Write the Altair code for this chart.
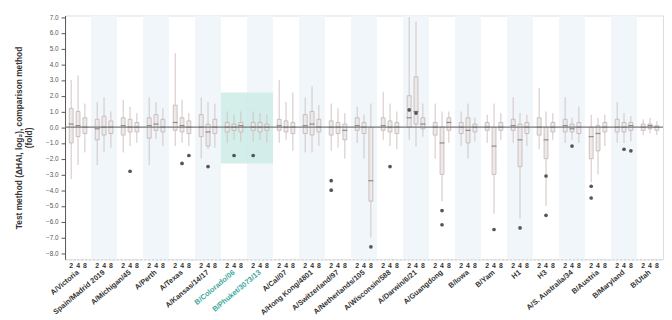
import altair as alt
import pandas as pd

groups = ["A/Victoria", "Spain/Madrid 2019", "A/Michigan/45", "A/Perth", "A/Texas",
          "A/Kansas/14/17", "B/Colorado/06", "B/Phuket/3073/13", "A/Cal/07",
          "A/Hong Kong/4801", "A/Switzerland/97", "A/Netherlands/105",
          "A/Wisconsin/588", "A/Darwin/6/21", "A/Guangdong", "B/Iowa",
          "B/Yam", "H1", "H3", "A/S. Australia/34", "B/Austria", "B/Maryland", "B/Utah"]
highlight = ["B/Colorado/06", "B/Phuket/3073/13"]
subs = ["2", "4", "8"]

# per group: three sub-series, each (low, q1, median, q3, high)
stats = [
    [(-3.3, -1.0, 0.2, 1.2, 3.0), (-2.4, -0.6, 0.1, 1.0, 3.3), (-1.6, -0.4, 0.0, 0.6, 1.5)],
    [(-2.4, -0.8, -0.1, 0.5, 1.6), (-1.6, -0.5, 0.0, 0.7, 1.9), (-1.3, -0.4, 0.0, 0.4, 1.0)],
    [(-1.6, -0.5, 0.1, 0.6, 1.75), (-1.2, -0.3, 0.0, 0.5, 1.3), (-1.0, -0.3, 0.0, 0.3, 0.9)],
    [(-2.4, -0.7, 0.1, 0.6, 1.9), (-0.75, -0.2, 0.2, 0.8, 1.6), (-1.2, -0.3, 0.0, 0.5, 1.2)],
    [(-1.2, -0.2, 0.3, 1.4, 4.7), (-1.0, -0.3, 0.1, 0.6, 1.75), (-1.2, -0.4, 0.0, 0.4, 0.9)],
    [(-2.0, -0.6, 0.0, 0.8, 1.9), (-1.4, -1.2, -0.3, 0.2, 1.6), (-1.3, -0.4, 0.0, 0.5, 1.5)],
    [(-1.0, -0.3, 0.0, 0.3, 1.0), (-0.8, -0.2, 0.0, 0.2, 0.8), (-0.9, -0.3, 0.1, 0.3, 1.0)],
    [(-0.9, -0.2, 0.0, 0.3, 1.0), (-0.8, -0.3, 0.0, 0.3, 0.9), (-1.0, -0.2, 0.0, 0.2, 0.8)],
    [(-1.0, -0.2, 0.1, 0.5, 3.0), (-0.8, -0.3, 0.0, 0.4, 1.6), (-1.5, -0.4, 0.0, 0.3, 2.2)],
    [(-1.6, -0.4, 0.1, 0.8, 1.9), (-1.6, -0.5, 0.2, 1.0, 2.6), (-1.2, -0.3, 0.0, 0.5, 1.4)],
    [(-1.5, -0.5, 0.0, 0.4, 1.5), (-1.3, -0.4, 0.0, 0.3, 1.2), (-2.0, -0.8, -0.2, 0.2, 0.9)],
    [(-1.0, -0.2, 0.1, 0.6, 1.3), (-2.0, -0.4, 0.0, 0.3, 0.8), (-7.0, -4.7, -3.4, 0.0, 1.5)],
    [(-0.8, -0.2, 0.1, 0.6, 2.25), (-1.2, -0.3, 0.0, 0.4, 1.5), (-1.4, -0.4, 0.0, 0.3, 1.0)],
    [(-0.8, 0.0, 0.6, 2.0, 7.0), (-1.2, 0.2, 1.0, 3.2, 6.7), (-0.6, -0.1, 0.2, 0.6, 1.5)],
    [(-2.0, -0.5, 0.0, 0.3, 1.5), (-4.7, -3.0, -1.0, 0.0, 1.0), (-1.0, -0.2, 0.3, 0.6, 1.0)],
    [(-1.2, -0.4, 0.0, 0.3, 1.0), (-2.0, -1.0, -0.2, 0.6, 1.5), (-0.9, -0.3, 0.0, 0.2, 0.6)],
    [(-1.0, -0.2, 0.0, 0.3, 0.8), (-5.5, -3.0, -1.2, 0.0, 1.5), (-0.8, -0.2, 0.0, 0.3, 0.9)],
    [(-1.0, -0.2, 0.1, 0.5, 1.9), (-5.8, -2.5, -0.8, 0.2, 0.9), (-1.2, -0.4, 0.0, 0.3, 0.8)],
    [(-1.4, -0.5, 0.0, 0.6, 2.5), (-5.0, -2.0, -0.8, 0.0, 1.0), (-0.8, -0.3, 0.0, 0.3, 0.9)],
    [(-1.0, -0.3, 0.1, 0.5, 1.9), (-0.8, -0.3, -0.1, 0.2, 0.6), (-1.0, -0.4, 0.0, 0.3, 1.3)],
    [(-3.5, -2.0, -0.6, 0.0, 0.8), (-3.0, -1.5, -0.4, 0.1, 0.6), (-1.2, -0.3, 0.0, 0.3, 0.8)],
    [(-1.0, -0.3, 0.0, 0.5, 1.6), (-1.0, -0.3, 0.0, 0.3, 0.9), (-0.9, -0.2, 0.1, 0.3, 0.7)],
    [(-0.5, -0.2, 0.0, 0.2, 0.5), (-0.4, -0.1, 0.1, 0.2, 0.6), (-0.5, -0.2, 0.0, 0.1, 0.4)],
]

# outliers: (group index, sub index, value)
outliers = [(2, 1, -2.8), (4, 1, -2.3), (4, 2, -1.8), (5, 1, -2.5), (6, 1, -1.8), (7, 0, -1.8),
            (10, 0, -3.4), (10, 0, -4.0), (11, 2, -7.6), (12, 1, -2.5), (13, 0, 1.1), (13, 1, 0.9),
            (14, 1, -5.3), (14, 1, -6.2), (16, 1, -6.5), (17, 1, -6.4), (18, 1, -5.6), (18, 1, -3.1),
            (19, 1, -1.2), (20, 0, -4.5), (20, 0, -3.75), (21, 1, -1.4), (21, 2, -1.5)]

teal_low, teal_high = -2.3, 2.2
y_ticks = list(range(-8, 8))

W, H = 608, 248

rows = []
for gi, g in enumerate(groups):
    for si, s in enumerate(subs):
        lo, q1, med, q3, hi = stats[gi][si]
        rows.append(dict(group=g, sub=s, lo=lo, q1=q1, med=med, q3=q3, hi=hi))
df = pd.DataFrame(rows)
df_out = pd.DataFrame([dict(group=groups[g], sub=subs[s], v=v) for g, s, v in outliers])
df_bg = pd.DataFrame({"group": [g for i, g in enumerate(groups) if i % 2 == 1]})
df_teal = pd.DataFrame({"group": highlight, "lo": [teal_low] * 2, "hi": [teal_high] * 2})

label_test = " || ".join([f"datum.value == '{h}'" for h in highlight])

x = alt.X("group:N", sort=groups,
          scale=alt.Scale(paddingInner=0, paddingOuter=0),
          axis=alt.Axis(title=None, labelAngle=-40, labelAlign="right", labelBaseline="middle",
                        labelPadding=12, ticks=False, labelFontSize=7.5, labelFontWeight="bold",
                        labelFont="Liberation Sans", labelLimit=200,
                        labelColor={"condition": {"test": label_test, "value": "#3aa89a"}, "value": "#333333"},
                        domainColor="#cccccc", domainDash=[2, 2]))
xo = alt.XOffset("sub:N", sort=subs, scale=alt.Scale(paddingOuter=0.4))
yscale = alt.Scale(domain=[-8.4, 7.1], nice=False, zero=False)
yaxis = alt.Axis(values=y_ticks, format=".1f", grid=False, tickSize=4,
                 labelOverlap=False, labelPadding=3,
                 labelFontSize=6.5, labelColor="#555555", tickColor="#555555", domainColor="#555555",
                 title=["Test method (ΔHAI, log₂), comparison method", "(fold)"],
                 titleFontSize=8.5, titleFontWeight="bold", titleColor="#333333", titlePadding=12,
                 labelFont="Liberation Sans", titleFont="Liberation Sans")

bg = alt.Chart(df_bg).mark_rect(color="#f0f6fa").encode(
    x=x, y=alt.value(0), y2=alt.value(H))
teal = alt.Chart(df_teal).mark_rect(color="#cdebe6", opacity=0.85).encode(
    x=x, y=alt.Y("lo:Q", scale=yscale, axis=yaxis), y2="hi:Q")
whisk = alt.Chart(df).mark_rule(color="#d2c4c4", strokeWidth=1).encode(
    x=x, xOffset=xo, y=alt.Y("lo:Q", scale=yscale, axis=yaxis), y2="hi:Q")
box = alt.Chart(df).mark_bar(size=4, color="#efe8e8", stroke="#b0a4a4", strokeWidth=0.6).encode(
    x=x, xOffset=xo, y=alt.Y("q1:Q", scale=yscale, axis=yaxis), y2="q3:Q")
med = alt.Chart(df).mark_tick(color="#666666", size=5, thickness=1.2, orient="horizontal").encode(
    x=x, xOffset=xo, y=alt.Y("med:Q", scale=yscale, axis=yaxis))
pts = alt.Chart(df_out).mark_point(filled=True, size=14, color="#555555", opacity=1).encode(
    x=x, xOffset=xo, y=alt.Y("v:Q", scale=yscale, axis=yaxis))
zero = alt.Chart(df_bg.head(1)).mark_rule(color="#777777", strokeWidth=1.3).encode(
    y=alt.datum(0, scale=yscale, axis=yaxis))
sublab = alt.Chart(df).mark_text(fontSize=7, fontWeight="bold", color="#333333", baseline="top",
                                 font="Liberation Sans").encode(
    x=x, xOffset=xo, y=alt.value(H + 3), text="sub:N")

chart = alt.layer(bg, teal, whisk, box, med, pts, zero, sublab).properties(
    width=W, height=H, padding={"left": 6, "top": 3, "right": 0, "bottom": 0}
).configure_view(stroke=None).configure_axisY(labelOverlap=False, values=y_ticks).configure(background="white")

chart.save("out.html", embed_options={"renderer": "svg", "actions": False})
